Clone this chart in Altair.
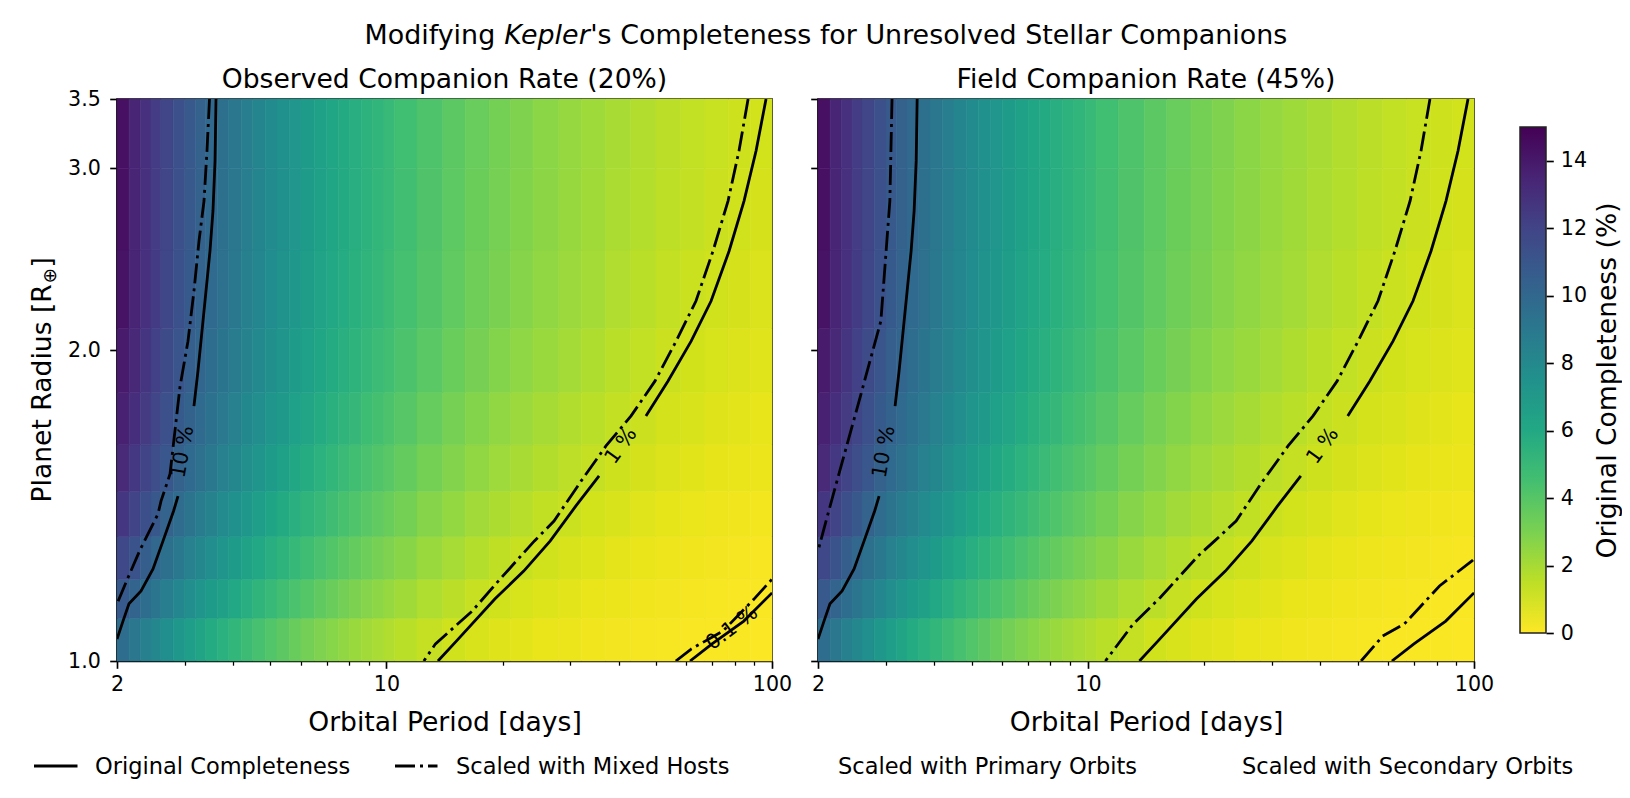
import altair as alt
import pandas as pd

FONT = "DejaVu Sans"

# ---------------- heatmap grid (original completeness, %) ----------------
PERIOD_EDGES = [2, 2.15, 2.3, 2.45, 2.6, 2.8, 3, 3.2, 3.4, 3.65, 3.9, 4.2, 4.5, 4.85, 5.2,
                5.6, 6, 6.5, 7, 7.5, 8, 8.6, 9.2, 9.85, 10.5, 12, 14, 16, 18.5, 21, 24, 28,
                32, 37, 43, 50, 58, 67, 77, 88, 100]
RADIUS_EDGES = [1.0, 1.1, 1.2, 1.32, 1.46, 1.62, 1.82, 2.1, 2.5, 3.0, 3.5]

ROW_1 = [9.69, 9.08, 8.55, 8.07, 7.59, 7.07, 6.62, 6.23, 5.84, 5.46, 5.08, 4.72, 4.38, 4.06,
         3.76, 3.47, 3.18, 2.91, 2.68, 2.48, 2.28, 2.09, 1.92, 1.77,
         1.56, 1.29, 1.06, 0.87, 0.72, 0.60, 0.49, 0.39, 0.31, 0.25, 0.19, 0.15, 0.11, 0.09, 0.07, 0.05]
ROW_2 = [10.85, 10.22, 9.66, 9.17, 8.66, 8.12, 7.66, 7.25, 6.84, 6.41, 6.01, 5.62, 5.25, 4.90,
         4.56, 4.26, 3.96, 3.66, 3.40, 3.17, 2.96, 2.75, 2.55, 2.36,
         2.11, 1.79, 1.52, 1.26, 1.06, 0.90, 0.74, 0.60, 0.49, 0.40, 0.31, 0.24, 0.19, 0.15, 0.12, 0.10]
ROW_3 = [11.80, 11.17, 10.61, 10.08, 9.53, 8.98, 8.50, 8.07, 7.65, 7.21, 6.79, 6.39, 6.00, 5.63,
         5.28, 4.96, 4.64, 4.31, 4.04, 3.79, 3.55, 3.32, 3.11, 2.91,
         2.64, 2.28, 1.96, 1.68, 1.43, 1.24, 1.05, 0.87, 0.73, 0.59, 0.48, 0.38, 0.31, 0.25, 0.20, 0.16]
ROW_4 = [12.67, 12.00, 11.41, 10.88, 10.33, 9.75, 9.25, 8.80, 8.35, 7.91, 7.48, 7.07, 6.65, 6.27,
         5.90, 5.57, 5.23, 4.91, 4.61, 4.35, 4.11, 3.86, 3.63, 3.43,
         3.14, 2.74, 2.40, 2.09, 1.83, 1.61, 1.39, 1.18, 1.01, 0.84, 0.70, 0.56, 0.46, 0.38, 0.31, 0.26]
ROW_5 = [13.27, 12.61, 12.02, 11.49, 10.95, 10.39, 9.90, 9.46, 8.99, 8.52, 8.07, 7.63, 7.21, 6.82,
         6.44, 6.08, 5.73, 5.39, 5.10, 4.83, 4.57, 4.31, 4.08, 3.86,
         3.56, 3.15, 2.79, 2.46, 2.17, 1.94, 1.70, 1.48, 1.29, 1.10, 0.93, 0.77, 0.65, 0.55, 0.47, 0.39]
ROW_6 = [13.69, 13.03, 12.44, 11.91, 11.37, 10.81, 10.31, 9.87, 9.40, 8.94, 8.49, 8.06, 7.65, 7.25,
         6.88, 6.53, 6.19, 5.84, 5.52, 5.24, 4.97, 4.71, 4.47, 4.24,
         3.92, 3.49, 3.12, 2.78, 2.48, 2.23, 1.97, 1.74, 1.54, 1.34, 1.15, 0.98, 0.84, 0.72, 0.63, 0.53]
ROW_7 = [13.96, 13.30, 12.71, 12.18, 11.63, 11.07, 10.57, 10.13, 9.68, 9.23, 8.80, 8.37, 7.95, 7.56,
         7.19, 6.83, 6.48, 6.14, 5.84, 5.56, 5.29, 5.02, 4.78, 4.55,
         4.23, 3.82, 3.43, 3.07, 2.76, 2.50, 2.24, 1.99, 1.78, 1.56, 1.36, 1.17, 1.02, 0.89, 0.79, 0.69]
ROW_8 = [14.30, 13.51, 12.93, 12.40, 11.85, 11.29, 10.78, 10.33, 9.88, 9.43, 8.99, 8.56, 8.15, 7.75,
         7.38, 7.02, 6.67, 6.32, 6.02, 5.75, 5.48, 5.22, 4.99, 4.76,
         4.45, 4.02, 3.63, 3.29, 2.99, 2.72, 2.45, 2.20, 1.99, 1.76, 1.55, 1.35, 1.19, 1.05, 0.94, 0.83]
ROW_9 = [14.40, 13.51, 12.94, 12.42, 11.88, 11.32, 10.83, 10.39, 9.94, 9.50, 9.06, 8.64, 8.24, 7.85,
         7.48, 7.13, 6.79, 6.45, 6.14, 5.87, 5.60, 5.34, 5.10, 4.87,
         4.55, 4.13, 3.74, 3.39, 3.09, 2.82, 2.56, 2.32, 2.11, 1.88, 1.67, 1.47, 1.31, 1.17, 1.05, 0.94]
ROW_10 = [14.40, 13.51, 12.94, 12.42, 11.88, 11.32, 10.83, 10.39, 9.94, 9.50, 9.06, 8.64, 8.24, 7.85,
          7.48, 7.13, 6.79, 6.45, 6.15, 5.88, 5.62, 5.36, 5.12, 4.90,
          4.59, 4.17, 3.79, 3.45, 3.14, 2.88, 2.62, 2.37, 2.16, 1.93, 1.72, 1.52, 1.36, 1.22, 1.10, 0.99]
COMPLETENESS = [ROW_1, ROW_2, ROW_3, ROW_4, ROW_5, ROW_6, ROW_7, ROW_8, ROW_9, ROW_10]

# ---------------- contour lines (period, radius) ----------------
SOLID_10_A_P = [3.613, 3.592, 3.548, 3.485, 3.403, 3.323, 3.244, 3.167]
SOLID_10_A_R = [3.5, 3.049, 2.727, 2.494, 2.281, 2.087, 1.909, 1.765]
SOLID_10_B_P = [2.879, 2.804, 2.633, 2.480, 2.309, 2.148, 2.073, 2.0]
SOLID_10_B_R = [1.444, 1.397, 1.307, 1.228, 1.169, 1.136, 1.093, 1.050]
SOLID_1_A_P = [96.5, 90.9, 84.6, 77.4, 69.5, 61.7, 53.7, 47.1]
SOLID_1_A_R = [3.5, 3.117, 2.788, 2.494, 2.231, 2.040, 1.866, 1.727]
SOLID_1_B_P = [35.6, 31.0, 26.6, 22.7, 19.1, 15.2, 13.6]
SOLID_1_B_R = [1.511, 1.413, 1.307, 1.222, 1.148, 1.046, 1.0]
SOLID_01_P = [61.3, 69.9, 84.5, 100]
SOLID_01_R = [1.0, 1.039, 1.093, 1.164]

OBS_10_P = [3.475, 3.423, 3.363, 3.264, 3.167, 3.056, 2.913, 2.745, 2.601, 2.555, 2.295, 2.117, 2.0]
OBS_10_R = [3.5, 3.117, 2.788, 2.551, 2.281, 2.040, 1.842, 1.517, 1.428, 1.388, 1.281, 1.195, 1.136]
OBS_1_P = [86.7, 82.1, 76.9, 70.3, 63.5, 56.4, 49.7, 43.1, 37.1, 32.0, 27.2, 24.2, 19.5, 16.7, 13.4, 12.5]
OBS_1_R = [3.5, 3.117, 2.788, 2.494, 2.231, 2.040, 1.866, 1.727, 1.615, 1.494, 1.366, 1.307, 1.195, 1.118, 1.039, 1.0]
OBS_01_P = [56.3, 61.7, 74.6, 89.8, 100]
OBS_01_R = [1.0, 1.027, 1.069, 1.148, 1.200]

FLD_10_P = [3.11, 3.07, 2.91, 2.555, 2.240, 2.098, 2.0]
FLD_10_R = [3.5, 2.788, 2.134, 1.785, 1.494, 1.366, 1.278]
FLD_1_P = [76.9, 72.9, 68.3, 62.4, 56.4, 50.1, 44.2, 38.3, 33.0, 28.4, 24.2, 21.3, 19.3, 15.4, 13.1, 11.1]
FLD_1_R = [3.5, 3.117, 2.788, 2.494, 2.231, 2.040, 1.866, 1.727, 1.615, 1.494, 1.366, 1.307, 1.264, 1.152, 1.086, 1.0]
FLD_01_P = [51.0, 58.0, 66.0, 81.4, 98.8, 100]
FLD_01_R = [1.0, 1.057, 1.086, 1.182, 1.250, 1.255]

OBS_LABELS = [("10 %", 2.966, 1.594, 280), ("1 %", 40.6, 1.615, 306), ("0.1 %", 78.8, 1.076, 323)]
FLD_LABELS = [("10 %", 2.966, 1.594, 280), ("1 %", 40.6, 1.615, 306)]

X_TICKS = [2, 3, 4, 5, 6, 7, 8, 9, 10, 20, 30, 40, 50, 60, 70, 80, 90, 100]
Y_TICKS = [1.0, 2.0, 3.0, 3.5]
CBAR_TICKS = [0, 2, 4, 6, 8, 10, 12, 14]
VIRIDIS = ["#fde725", "#bddf26", "#7ad151", "#44bf70", "#22a884", "#21918c",
           "#2a788e", "#355f8d", "#414487", "#482475", "#440154"]

H = 562
TICK_FS = 20.6
TITLE_FS = 26.6
SUPTITLE_FS = 26.9
LEG_FS = 22.5
LW = 2.8
DASHDOT = [20, 5, 3, 5]

cells = []
for i, row in enumerate(COMPLETENESS):
    for j, v in enumerate(row):
        cells.append({"p0": PERIOD_EDGES[j], "p1": PERIOD_EDGES[j + 1],
                      "r0": RADIUS_EDGES[i], "r1": RADIUS_EDGES[i + 1], "v": v})
heat = pd.DataFrame(cells)


def lines_table(segments):
    out = []
    for k, (ps, rs) in enumerate(segments):
        for n, (p, r) in enumerate(zip(ps, rs)):
            out.append({"p0": p, "r0": r, "seg": k, "ord": n})
    return pd.DataFrame(out)


solid_df = lines_table([(SOLID_10_A_P, SOLID_10_A_R), (SOLID_10_B_P, SOLID_10_B_R),
                        (SOLID_1_A_P, SOLID_1_A_R), (SOLID_1_B_P, SOLID_1_B_R),
                        (SOLID_01_P, SOLID_01_R)])
obs_df = lines_table([(OBS_10_P, OBS_10_R), (OBS_1_P, OBS_1_R), (OBS_01_P, OBS_01_R)])
fld_df = lines_table([(FLD_10_P, FLD_10_R), (FLD_1_P, FLD_1_R), (FLD_01_P, FLD_01_R)])


def labels_table(items):
    return pd.DataFrame([{"t": t, "p0": p, "r0": r, "a": a} for t, p, r, a in items])


XS = alt.Scale(type="log", domain=[2, 100], nice=False)
YS = alt.Scale(type="log", domain=[1, 3.5], nice=False)
CS = alt.Scale(scheme="viridis", reverse=True, domain=[0, 15])
MAJOR = "datum.value == 2 || datum.value == 10 || datum.value == 100"


def x_axis():
    return alt.Axis(values=X_TICKS, format="~g",
                    labelExpr="(" + MAJOR + ") ? datum.label : ''",
                    title="Orbital Period [days]", grid=False,
                    tickSize={"condition": {"test": "!(" + MAJOR + ")", "value": 4.2}, "value": 7.3},
                    tickWidth={"condition": {"test": "!(" + MAJOR + ")", "value": 1.25}, "value": 1.67},
                    tickColor="black", domainColor="black", domainWidth=1.67,
                    labelFont=FONT, labelFontSize=TICK_FS, labelColor="black", labelPadding=6.5,
                    labelOverlap=False, labelFlush=False,
                    titleFont=FONT, titleFontSize=TITLE_FS, titleFontWeight="normal",
                    titleColor="black", titlePadding=14)


def y_axis(show_labels):
    return alt.Axis(values=Y_TICKS, format=".1f", labels=show_labels, title="", grid=False,
                    tickSize=7.3, tickWidth=1.67, tickColor="black",
                    domainColor="black", domainWidth=1.67,
                    labelFont=FONT, labelFontSize=TICK_FS, labelColor="black", labelPadding=9.4,
                    labelOverlap=False, labelFlush=False)


def text_layer(text, x, y, size, align="center", style="normal", angle=0):
    kw = dict(font=FONT, fontSize=size, color="black", align=align, baseline="alphabetic",
              fontStyle=style)
    if angle:
        kw["angle"] = angle
    return alt.Chart(pd.DataFrame({"t": [text]})).mark_text(**kw).encode(
        x=alt.value(x), y=alt.value(y), text="t:N")


def panel(width, dash_df, labels, is_left, subtitle):
    xa = x_axis()
    ya = y_axis(is_left)
    heat_layer = alt.Chart(heat).mark_rect(strokeWidth=0.6).encode(
        x=alt.X("p0:Q", scale=XS, axis=xa), x2="p1:Q",
        y=alt.Y("r0:Q", scale=YS, axis=ya), y2="r1:Q",
        color=alt.Color("v:Q", scale=CS, legend=None),
        stroke=alt.Stroke("v:Q", scale=CS, legend=None),
    )
    solid = alt.Chart(solid_df).mark_line(color="black", strokeWidth=LW, clip=True).encode(
        x=alt.X("p0:Q", scale=XS, axis=xa), y=alt.Y("r0:Q", scale=YS, axis=ya),
        detail="seg:N", order="ord:Q")
    dash = alt.Chart(dash_df).mark_line(color="black", strokeWidth=LW, clip=True,
                                        strokeDash=DASHDOT).encode(
        x=alt.X("p0:Q", scale=XS, axis=xa), y=alt.Y("r0:Q", scale=YS, axis=ya),
        detail="seg:N", order="ord:Q")
    labs = alt.Chart(labels_table(labels)).mark_text(
        font=FONT, fontSize=TICK_FS, color="black", align="center", baseline="middle").encode(
        x=alt.X("p0:Q", scale=XS, axis=xa), y=alt.Y("r0:Q", scale=YS, axis=ya),
        text="t:N", angle=alt.Angle("a:Q", scale=None))
    layers = [heat_layer, solid, dash, labs,
              text_layer(subtitle, width / 2, -11.3, TITLE_FS)]
    if is_left:
        kx = 430
        half = 43.2
        sp = 8.6
        leg_dx = 9
        layers += [
            text_layer("Modifying", kx - half - sp, -55.3, SUPTITLE_FS, align="right"),
            text_layer("Kepler", kx, -55.3, SUPTITLE_FS, align="center", style="italic"),
            text_layer("'s Completeness for Unresolved Stellar Companions", kx + half, -55.3,
                       SUPTITLE_FS, align="left"),
            text_layer("Planet Radius [R", -66.3, 403.5, TITLE_FS, align="left", angle=270),
            text_layer("⊕", -61.0, 184.5, 18.6, align="left", angle=270),
            text_layer("]", -66.3, 168.5, TITLE_FS, align="left", angle=270),
            alt.Chart(pd.DataFrame({"k": [0]})).mark_rule(color="black", strokeWidth=LW).encode(
                x=alt.value(-83), x2=alt.value(-39.5), y=alt.value(667)),
            alt.Chart(pd.DataFrame({"k": [0]})).mark_rule(color="black", strokeWidth=LW,
                                                          strokeDash=DASHDOT).encode(
                x=alt.value(269 + leg_dx), x2=alt.value(311.5 + leg_dx), y=alt.value(667)),
            text_layer("Original Completeness", -22, 675.2, LEG_FS, align="left"),
            text_layer("Scaled with Mixed Hosts", 330 + leg_dx, 675.2, LEG_FS, align="left"),
            text_layer("Scaled with Primary Orbits", 721, 675.2, LEG_FS, align="left"),
            text_layer("Scaled with Secondary Orbits", 1125, 675.2, LEG_FS, align="left"),
            alt.Chart(pd.DataFrame({"k": [0]})).mark_rule(opacity=0, strokeWidth=1).encode(
                x=alt.value(-108), x2=alt.value(-100), y=alt.value(-89.5)),
        ]
    return alt.layer(*layers).properties(
        width=width, height=H,
        view=alt.ViewBackground(stroke="black", strokeWidth=1.67))


left = panel(655, obs_df, OBS_LABELS, True, "Observed Companion Rate (20%)")
right = panel(656, fld_df, FLD_LABELS, False, "Field Companion Rate (45%)")

grad = alt.Gradient(gradient="linear",
                    stops=[alt.GradientStop(color=c, offset=k / 10) for k, c in enumerate(VIRIDIS)],
                    x1=0, x2=0, y1=1, y2=0)
cbar = alt.Chart(pd.DataFrame({"lo": [0], "hi": [15]})).mark_rect(
    fill=grad, stroke="#222222", strokeWidth=1.5).encode(
    x=alt.value(0), x2=alt.value(26),
    y=alt.Y("lo:Q", scale=alt.Scale(domain=[-0.83, 15.83], nice=False, zero=False),
            axis=alt.Axis(orient="right", values=CBAR_TICKS, domain=False, grid=False,
                          tickSize=7.3, tickWidth=1.67, tickColor="black",
                          labelFont=FONT, labelFontSize=TICK_FS, labelColor="black",
                          labelPadding=7, labelOverlap=False, labelFlush=False,
                          title="Original Completeness (%)", titleFont=FONT,
                          titleFontSize=TITLE_FS, titleFontWeight="normal", titleColor="black",
                          titleAngle=270, titleBaseline="top", titlePadding=8)),
    y2="hi:Q",
).properties(width=26, height=H, view=alt.ViewBackground(strokeOpacity=0))

chart = alt.hconcat(left, right, cbar, spacing=46, bounds="flush").properties(
    padding=0, background="white"
).configure(font=FONT)

chart.save("out.html", embed_options={"renderer": "svg", "actions": False})
